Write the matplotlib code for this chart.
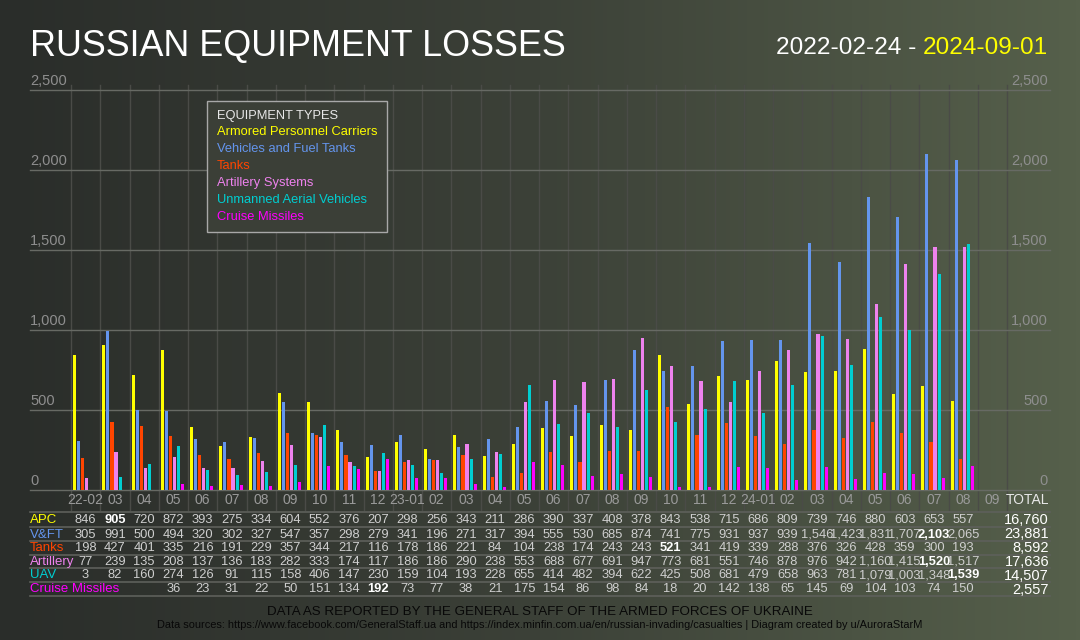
import numpy as np
import matplotlib
matplotlib.use("Agg")
import matplotlib.pyplot as plt
from matplotlib.colors import LinearSegmentedColormap
from matplotlib.lines import Line2D
from matplotlib.patches import Rectangle
from matplotlib.transforms import blended_transform_factory

plt.rcParams["font.family"] = ["Liberation Sans", "DejaVu Sans"]

# ── DATA ─────────────────────────────────────────────────
months = ["22-02", "03", "04", "05", "06", "07", "08", "09", "10", "11", "12",
          "23-01", "02", "03", "04", "05", "06", "07", "08", "09", "10", "11", "12",
          "24-01", "02", "03", "04", "05", "06", "07", "08", "09"]
nan = np.nan
apc = [846, 905, 720, 872, 393, 275, 334, 604, 552, 376, 207,
       298, 256, 343, 211, 286, 390, 337, 408, 378, 843, 538, 715,
       686, 809, 739, 746, 880, 603, 653, 557, nan]
vft = [305, 991, 500, 494, 320, 302, 327, 547, 357, 298, 279,
       341, 196, 271, 317, 394, 555, 530, 685, 874, 741, 775, 931,
       937, 939, 1546, 1423, 1831, 1707, 2103, 2065, nan]
tanks = [198, 427, 401, 335, 216, 191, 229, 357, 344, 217, 116,
         178, 186, 221, 84, 104, 238, 174, 243, 243, 521, 341, 419,
         339, 288, 376, 326, 428, 359, 300, 193, nan]
artillery = [77, 239, 135, 208, 137, 136, 183, 282, 333, 174, 117,
             186, 186, 290, 238, 553, 688, 677, 691, 947, 773, 681, 551,
             746, 878, 976, 942, 1160, 1415, 1520, 1517, nan]
uav = [3, 82, 160, 274, 126, 91, 115, 158, 406, 147, 230,
       159, 104, 193, 228, 655, 414, 482, 394, 622, 425, 508, 681,
       479, 658, 963, 781, 1079, 1003, 1348, 1539, nan]
missiles = [nan, nan, nan, 36, 23, 31, 22, 50, 151, 134, 192,
            73, 77, 38, 21, 175, 154, 86, 98, 84, 18, 20, 142,
            138, 65, 145, 69, 104, 103, 74, 150, nan]
totals = [16760, 23881, 8592, 17636, 14507, 2557]

row_names = ["APC", "V&FT", "Tanks", "Artillery", "UAV", "Cruise Missiles"]
legend_names = ["Armored Personnel Carriers", "Vehicles and Fuel Tanks", "Tanks",
                "Artillery Systems", "Unmanned Aerial Vehicles", "Cruise Missiles"]
colors = ["#ffff00", "#6495ed", "#ff4500", "#ee82ee", "#00ced1", "#ff00ff"]
series = [apc, vft, tanks, artillery, uav, missiles]

# ── FIGURE ───────────────────────────────────────────────
W, H = 1080, 640
fig = plt.figure(figsize=(W / 100, H / 100), dpi=100)

bg = fig.add_axes([0, 0, 1, 1], zorder=-10)
cmap = LinearSegmentedColormap.from_list("bg", ["#2a2d2a", "#3c4138", "#56604b"])
bg.imshow(np.linspace(0, 1, 256)[None, :], aspect="auto", cmap=cmap, extent=[0, 1, 0, 1])
bg.axis("off")

def fx(x):
    return x / W

def fy(y):
    return 1 - y / H

X0, X1, Y0, Y1 = 71, 1007, 490, 90
ax = fig.add_axes([fx(X0), fy(Y0), (X1 - X0) / W, (Y0 - Y1) / H])
ax.set_facecolor("none")
ax.set_xlim(0, len(months))
ax.set_ylim(0, 2500)
ax.axis("off")

n = len(months)
xpos = np.arange(n) + 0.5
ytr = ax.get_yaxis_transform()
left_ax = (30 - X0) / (X1 - X0)
right_ax = (1050 - X0) / (X1 - X0)

# horizontal gridlines + labels on both sides
for v in range(0, 2501, 500):
    ax.plot([left_ax, right_ax], [v, v], transform=ytr, color="#676a64", lw=1,
            clip_on=False, zorder=1)
    ax.text(left_ax, v + 12, f"{v:,}", transform=ytr, ha="left", va="bottom",
            color="#8e8e8e", fontsize=10.5)
    ax.text((1048 - X0) / (X1 - X0), v + 12, f"{v:,}", transform=ytr, ha="right",
            va="bottom", color="#8e8e8e", fontsize=10.5)

# vertical month separators
for i in range(n + 1):
    ax.plot([i, i], [-125, 2530], color="#4a4b47", lw=1, clip_on=False, zorder=0)

# bars
step, bw = 0.137, 0.103
for k, (vals, c) in enumerate(zip(series, colors)):
    ax.bar(xpos + (k - 2.5) * step - 0.03, np.array(vals, dtype=float), width=bw,
           color=c, zorder=3)

# month labels
for i, m in enumerate(months):
    ax.text(xpos[i], -62, m, ha="center", va="center", color="#9a9a9a",
            fontsize=10, clip_on=False)
fig.text(fx(1049), fy(500), "TOTAL", ha="right", va="center", color="#e8e8e8",
         fontsize=10)

# ── TABLE ────────────────────────────────────────────────
tr = blended_transform_factory(ax.transData, fig.transFigure)
line_y = [512, 527, 541, 554.5, 568, 582, 596]
for y in line_y:
    fig.add_artist(Line2D([fx(30), fx(1050)], [fy(y), fy(y)], color="#5e605b", lw=1.2))

for r, (name, vals, c) in enumerate(zip(row_names, series, colors)):
    yc = fy((line_y[r] + line_y[r + 1]) / 2 + 0.5)
    fig.text(fx(30), yc, name, ha="left", va="center", color=c, fontsize=9.5)
    arr = np.array(vals, dtype=float)
    vmax = np.nanmax(arr)
    for i, v in enumerate(arr):
        if np.isnan(v):
            continue
        best = v == vmax
        ax.text(xpos[i], yc, f"{int(v):,}", transform=tr, ha="center", va="center",
                color="white" if best else "#cfcfcf", fontsize=9.3,
                fontweight="bold" if best else "normal")
    fig.text(fx(1049), yc, f"{totals[r]:,}", ha="right", va="center", color="white",
             fontsize=10.5)

# ── LEGEND BOX ───────────────────────────────────────────
fig.add_artist(Rectangle((fx(207), fy(232)), (387 - 207) / W, (232 - 101) / H,
                         transform=fig.transFigure, facecolor="#3b3f37",
                         edgecolor="#a8a8a8", lw=1, zorder=5))
fig.text(fx(217), fy(115.5), "EQUIPMENT TYPES", ha="left", va="center",
         color="#e8e8e8", fontsize=9.3, zorder=6)
for k, (name, c) in enumerate(zip(legend_names, colors)):
    fig.text(fx(217), fy(132 + 17 * k), name, ha="left", va="center", color=c,
             fontsize=9.3, zorder=6)

# ── TITLES ───────────────────────────────────────────────
fig.text(fx(30), fy(56), "RUSSIAN EQUIPMENT LOSSES", ha="left", va="baseline",
         color="white", fontsize=25.8)
t_end = fig.text(fx(1048), fy(54), "2024-09-01", ha="right", va="baseline",
                 color="#ffff00", fontsize=17.6)
fig.canvas.draw()
bb = t_end.get_window_extent()
fig.text((bb.x0 - 6.5) / W, fy(54), "2022-02-24 -", ha="right", va="baseline",
         color="white", fontsize=17.6)

# footer
fig.text(0.5, fy(612), "DATA AS REPORTED BY THE GENERAL STAFF OF THE ARMED FORCES OF UKRAINE",
         ha="center", va="center", color="#080808", fontsize=9.6)
fig.text(0.5, fy(625.5),
         "Data sources: https://www.facebook.com/GeneralStaff.ua and "
         "https://index.minfin.com.ua/en/russian-invading/casualties | "
         "Diagram created by u/AuroraStarM",
         ha="center", va="center", color="#080808", fontsize=7.95)

fig.savefig("out.png", dpi=100)
